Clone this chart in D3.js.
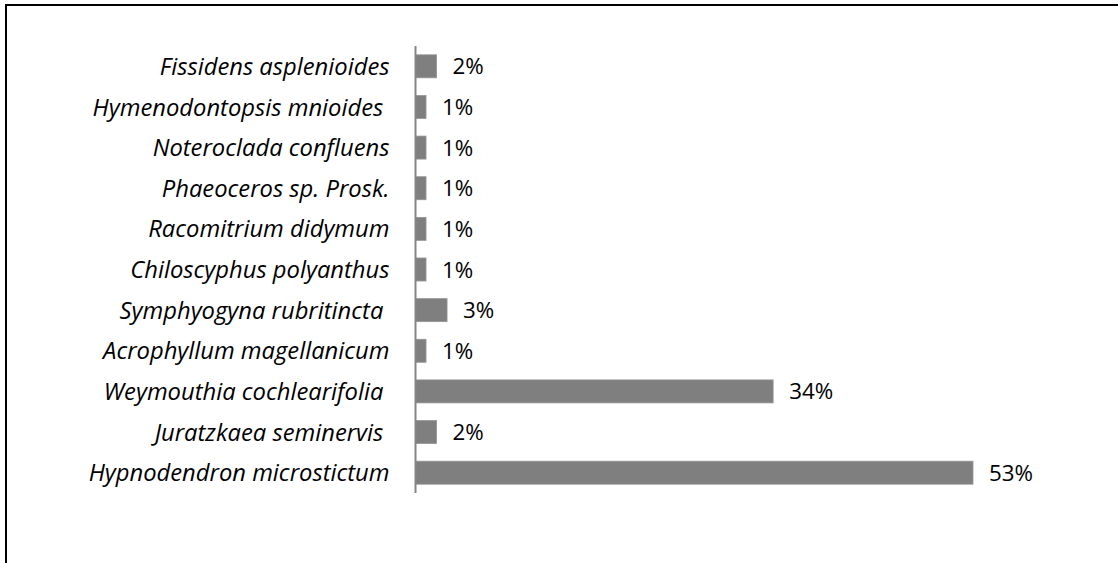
<!DOCTYPE html>
<html>
<head>
<meta charset="utf-8">
<script src="https://cdn.jsdelivr.net/npm/d3@7"></script>
<style>
  html, body { margin: 0; padding: 0; background: #fff; }
  svg { display: block; }
</style>
</head>
<body>
<svg id="chart" width="1118" height="563"></svg>
<script>
const categories = [
  "Fissidens asplenioides",
  "Hymenodontopsis mnioides ",
  "Noteroclada confluens",
  "Phaeoceros sp. Prosk.",
  "Racomitrium didymum",
  "Chiloscyphus polyanthus",
  "Symphyogyna rubritincta ",
  "Acrophyllum magellanicum",
  "Weymouthia cochlearifolia ",
  "Juratzkaea seminervis ",
  "Hypnodendron microstictum"
];
const values = [2, 1, 1, 1, 1, 1, 3, 1, 34, 2, 53];
const valueLabels = ["2%", "1%", "1%", "1%", "1%", "1%", "3%", "1%", "34%", "2%", "53%"];

const svg = d3.select("#chart");
const W = 1118, H = 563;
const FONT = "'Open Sans', Lato, sans-serif";

// outer frame (chart area border)
svg.append("rect")
  .attr("x", 6).attr("y", 5)
  .attr("width", W + 20).attr("height", H + 20)
  .attr("fill", "none").attr("stroke", "#000").attr("stroke-width", 2);

// fit label font size so the longest label spans the reference width
const probe = svg.append("text").attr("font-family", FONT).attr("font-style", "italic")
  .attr("font-size", 20).text("Hypnodendron microstictum");
const w20 = probe.node().getComputedTextLength();
probe.remove();
const labelSize = 20 * 301 / w20;

const probe2 = svg.append("text").attr("font-family", FONT)
  .attr("font-size", 20).text("53%");
const v20 = probe2.node().getComputedTextLength();
probe2.remove();
const valueSize = 20 * 44 / v20;

const x0 = 415.5;
const x = d3.scaleLinear().domain([0, 53]).range([x0, 973]);
const y = d3.scaleBand().domain(categories).range([46, 493])
  .paddingInner(0.434).paddingOuter(0.217);

const data = categories.map((c, i) => ({ c, v: values[i], l: valueLabels[i] }));

svg.append("g").selectAll("rect").data(data).enter().append("rect")
  .attr("x", x(0))
  .attr("y", d => y(d.c))
  .attr("width", d => x(d.v) - x(0))
  .attr("height", y.bandwidth())
  .attr("fill", "#7f7f7f")
  .attr("stroke", "#959595").attr("stroke-width", 0.8);

// value labels
svg.append("g").selectAll("text").data(data).enter().append("text")
  .attr("x", d => x(d.v) + 16)
  .attr("y", d => y(d.c) + y.bandwidth() / 2)
  .attr("dy", "0.36em")
  .attr("font-family", FONT)
  .attr("font-size", valueSize)
  .attr("fill", "#000")
  .text(d => d.l);

// axis
const yAxis = d3.axisLeft(y).tickSize(0).tickPadding(0);
const ag = svg.append("g").attr("transform", `translate(${x0},0)`).call(yAxis);
ag.select(".domain").attr("stroke", "#868686").attr("stroke-width", 2)
  .attr("d", `M0,46V493`);
ag.selectAll(".tick text")
  .attr("x", -26)
  .attr("dy", "0.36em")
  .attr("font-family", FONT)
  .attr("font-style", "italic")
  .attr("font-size", labelSize)
  .attr("fill", "#000")
  .style("white-space", "pre")
  .attr("xml:space", "preserve");
</script>
</body>
</html>
